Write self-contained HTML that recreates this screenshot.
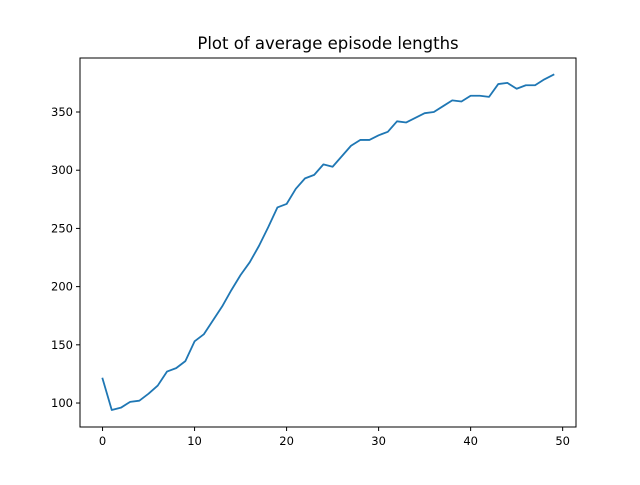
<!DOCTYPE html>
<html><head><meta charset="utf-8"><style>
body{margin:0;background:#fff}
svg text{font-family:"DejaVu Sans","Liberation Sans",sans-serif;fill:#000}
</style></head><body>
<svg id="chart" width="640" height="480">
<rect width="640" height="480" fill="#fff"/>
<text x="328" y="49" text-anchor="middle" font-size="16.5">Plot of average episode lengths</text>
<g id="axes"></g>
</svg>
<script>
const xTicks=[0,10,20,30,40,50];
const yTicks=[100,150,200,250,300,350];
const lengths=[121,94,96,101,102,108,115,127,130,136,153,159,171,183,197,210,221,235,251,268,271,284,293,296,305,303,312,321,326,326,330,333,342,341,345,349,350,355,360,359,364,364,363,374,375,370,373,373,378,382];
const L=80,R=576,T=58,B=427;
const xMin=-2.45,xMax=51.45,yMin=79.4,yMax=396.4;
const sx=v=>L+(v-xMin)/(xMax-xMin)*(R-L);
const sy=v=>B-(v-yMin)/(yMax-yMin)*(B-T);
const ns='http://www.w3.org/2000/svg';
const g=document.getElementById('axes');
function mk(t,a){const e=document.createElementNS(ns,t);for(const k in a)e.setAttribute(k,a[k]);g.appendChild(e);return e;}
const pts=lengths.map((v,i)=>sx(i)+','+sy(v)).join(' ');
const line=mk('polyline',{points:pts,fill:'none',stroke:'#1f77b4','stroke-width':1.8,'stroke-linejoin':'round','stroke-linecap':'square'});


const frame=mk('rect',{x:L,y:T,width:R-L,height:B-T,fill:'none',stroke:'#000','stroke-width':1});


xTicks.forEach(v=>{
  const x=sx(v);
  const tk=mk('line',{x1:x,x2:x,y1:B,y2:B+4,stroke:'#000','stroke-width':1});
  
  
  const t=mk('text',{x:x,y:B+18,'text-anchor':'middle','font-size':11.5});
  t.textContent=v;
  
  
});
yTicks.forEach(v=>{
  const y=sy(v);
  const tk=mk('line',{x1:L-4,x2:L,y1:y,y2:y,stroke:'#000','stroke-width':1});
  
  
  const t=mk('text',{x:L-7,y:y+4,'text-anchor':'end','font-size':11.5});
  t.textContent=v;
  
  
});
</script>
</body></html>
